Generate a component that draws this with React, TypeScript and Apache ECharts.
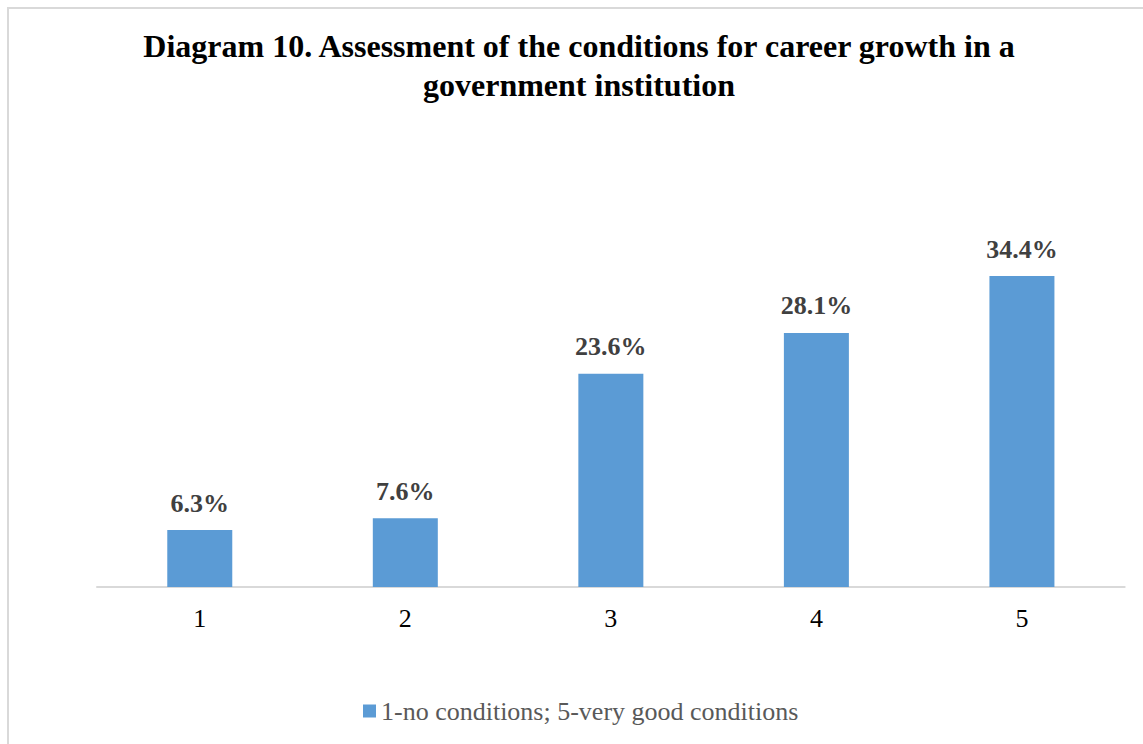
import React, { useEffect, useRef } from "react";
import * as echarts from "echarts";

const categories = ["1", "2", "3", "4", "5"];
const values = [6.3, 7.6, 23.6, 28.1, 34.4];
const seriesName = "1-no conditions; 5-very good conditions";
const titleText = "Diagram 10. Assessment of the conditions for career growth in a\ngovernment institution";

export default function App() {
  const ref = useRef<HTMLDivElement>(null);
  useEffect(() => {
    if (!ref.current) return;
    const chart = echarts.init(ref.current, null, { renderer: "svg" });
    const serif = "'Liberation Serif', 'Times New Roman', serif";
    chart.setOption({
      animation: false,
      backgroundColor: "#ffffff",
      title: {
        text: titleText,
        left: 574,
        top: 21,
        textAlign: "center",
        textStyle: {
          fontFamily: serif,
          fontWeight: "bold",
          fontSize: 32,
          lineHeight: 39,
          color: "#000000",
        },
      },
      graphic: [
        {
          type: "rect",
          shape: { x: 8, y: 8, width: 1300, height: 900 },
          style: { fill: "none", stroke: "#d9d9d9", lineWidth: 2 },
          silent: true,
        },
      ],
      legend: {
        data: [seriesName],
        left: 358,
        top: 693,
        itemWidth: 13,
        itemHeight: 13,
        icon: "rect",
        textStyle: { fontFamily: serif, fontSize: 26, color: "#595959" },
      },
      grid: { left: 97, right: 18.3, top: 225.4, bottom: 157, containLabel: false },
      xAxis: {
        type: "category",
        data: categories,
        axisLine: { show: true, lineStyle: { color: "#d9d9d9", width: 2 } },
        axisTick: { show: false },
        axisLabel: { fontFamily: serif, fontSize: 26, color: "#000000", margin: 18 },
      },
      yAxis: {
        type: "value",
        min: 0,
        max: 40,
        show: false,
        splitLine: { show: false },
      },
      series: [
        {
          name: seriesName,
          type: "bar",
          data: values,
          barWidth: 65,
          itemStyle: { color: "#5b9bd5" },
          label: {
            show: true,
            position: "top",
            distance: 14,
            formatter: (p: any) => p.value.toFixed(1) + "%",
            fontFamily: serif,
            fontWeight: "bold",
            fontSize: 26,
            color: "#404040",
          },
        },
      ],
    });
    return () => chart.dispose();
  }, []);
  return (
    <div
      ref={ref}
      style={{ position: "absolute", left: 0, top: 0, width: 1143, height: 744 }}
    />
  );
}
